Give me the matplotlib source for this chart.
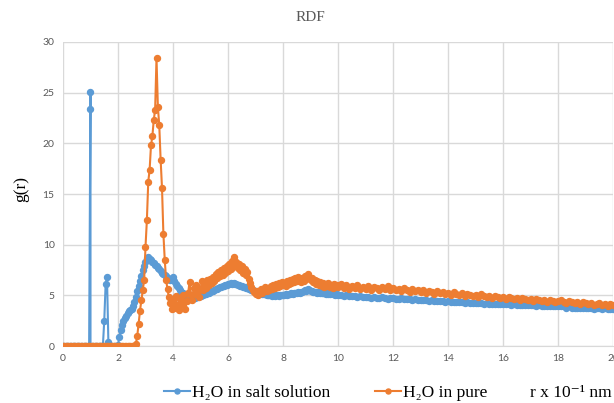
import numpy as np
import matplotlib
matplotlib.use("Agg")
import matplotlib.pyplot as plt
from matplotlib.lines import Line2D

# r grid: 0.05 steps up to 9.95, then 0.1 steps to 20
r = np.concatenate([np.round(np.arange(0, 10, 0.05), 2),
                    np.round(np.arange(10, 20.001, 0.1), 1)])
# the salt curve has two extra samples at r = 1.0 (vertical spike)
r_salt = np.insert(r, 21, [1.0, 1.0])

# H2O in salt solution
salt_a = [0] * 20 + [25.1, 23.4, 0, 0, 0, 0, 0, 0, 0, 0, 0, 0,
    2.5, 6.1, 6.8, 0.4, 0, 0, 0, 0, 0, 0,
    0.1, 0.9, 1.6, 2.1, 2.5, 2.8, 3.0, 3.3, 3.5, 3.6,
    3.7, 3.9, 4.3, 4.8, 5.4, 5.9, 6.4, 6.9, 7.5, 7.9,
    8.3, 8.7, 8.8, 8.6, 8.5, 8.3, 8.2, 8.0, 7.9, 7.7,
    7.6, 7.4, 7.2, 7.1, 7.0, 6.9, 6.7, 6.6, 6.5, 6.6,
    6.8, 6.4, 6.1, 5.9, 5.7, 5.5, 5.3, 5.2, 5.0, 4.9,
    4.8, 4.8, 4.7, 4.7, 4.6, 4.7, 4.7, 4.8, 4.8, 4.9,
    4.9, 5.0, 5.0, 5.1, 5.1, 5.2, 5.2, 5.3, 5.4, 5.4,
    5.5, 5.6, 5.6, 5.7, 5.8, 5.8, 5.9, 5.9, 6.0, 6.0,
    6.1, 6.1, 6.2, 6.1, 6.2, 6.1, 6.1, 6.0, 6.0, 5.9,
    5.9, 5.8, 5.8, 5.7, 5.7, 5.6, 5.6, 5.5, 5.5, 5.4,
    5.4, 5.3, 5.3, 5.2, 5.2, 5.1, 5.1, 5.1, 5.0, 5.0,
    5.0, 5.0, 4.9, 5.0, 4.9, 5.0, 5.0, 4.9, 5.0, 5.0,
    5.0, 5.0, 5.1, 5.0, 5.1, 5.1, 5.2, 5.1, 5.2, 5.2,
    5.2, 5.3, 5.2, 5.3, 5.3, 5.4, 5.5, 5.4, 5.6, 5.5,
    5.4, 5.4, 5.3, 5.3, 5.3, 5.2, 5.3, 5.2, 5.2, 5.2,
    5.2, 5.1, 5.2, 5.1, 5.1, 5.2, 5.1, 5.1, 5.0, 5.1]
salt_b = [5.0, 5.0, 4.9, 5.0, 4.9, 4.9, 4.9, 4.8, 4.9, 4.8,
    4.8, 4.8, 4.7, 4.8, 4.7, 4.7, 4.8, 4.7, 4.6, 4.7,
    4.7, 4.6, 4.6, 4.7, 4.6, 4.6, 4.6, 4.5, 4.6, 4.5,
    4.5, 4.5, 4.5, 4.4, 4.5, 4.4, 4.4, 4.4, 4.4, 4.3,
    4.4, 4.3, 4.3, 4.3, 4.3, 4.3, 4.2, 4.3, 4.2, 4.2,
    4.2, 4.2, 4.2, 4.1, 4.2, 4.1, 4.1, 4.1, 4.1, 4.1,
    4.1, 4.1, 4.1, 4.0, 4.1, 4.0, 4.0, 4.0, 4.0, 4.0,
    4.0, 4.0, 3.9, 4.0, 3.9, 3.9, 3.9, 3.9, 3.9, 3.9,
    3.9, 3.9, 3.9, 3.8, 3.9, 3.8, 3.8, 3.8, 3.8, 3.8,
    3.8, 3.8, 3.8, 3.7, 3.8, 3.8, 3.7, 3.8, 3.7, 3.7,
    3.7]

# H2O in pure water
pure_a = [0] * 53 + [0.2, 1.0, 2.2, 3.5, 4.5, 5.5, 6.5,
    9.8, 12.4, 16.2, 17.4, 19.8, 20.7, 22.3, 23.3, 28.4, 23.6,
    21.8, 18.4, 15.6, 11.1, 8.5, 6.5, 5.6, 4.8, 4.2, 3.7,
    4.5, 3.8, 4.9, 4.0, 3.6, 4.6, 4.1, 5.0, 4.3, 3.7,
    4.4, 5.2, 6.3, 5.0, 4.5, 5.7, 5.1, 6.0, 5.4, 4.8,
    5.6, 6.4, 5.5, 6.1, 5.7, 6.5, 6.0, 6.6, 6.2, 6.8,
    6.4, 7.1, 6.7, 7.3, 6.9, 7.5, 7.0, 7.7, 7.2, 7.9,
    7.4, 8.1, 7.6, 8.4, 8.8, 7.9, 8.3, 7.7, 8.1, 7.5,
    7.9, 7.2, 7.6, 7.0, 7.3, 6.6, 6.2, 5.8, 5.5, 5.3,
    5.1, 5.4, 5.0, 5.3, 5.6, 5.2, 5.5, 5.8, 5.4, 5.7,
    5.5, 5.9, 5.6, 6.0, 5.7, 6.1, 5.8, 6.2, 5.9, 6.3,
    6.0, 6.2, 5.9, 6.4, 6.1, 6.5, 6.2, 6.6, 6.3, 6.7,
    6.4, 6.8, 6.5, 6.3, 6.7, 6.4, 6.9, 6.6, 7.1, 6.8,
    6.5, 6.7, 6.3, 6.5, 6.1, 6.4, 6.0, 6.3, 5.9, 6.2,
    5.8, 6.1, 5.9, 6.2, 5.8, 6.0, 5.7, 6.1, 5.8, 6.0]
pure_b = [5.8, 6.1, 5.7, 6.0, 5.6, 5.9, 5.7, 6.0, 5.6, 5.8,
    5.6, 5.9, 5.5, 5.8, 5.7, 5.5, 5.8, 5.6, 5.9, 5.5,
    5.7, 5.5, 5.6, 5.4, 5.7, 5.5, 5.3, 5.6, 5.4, 5.5,
    5.3, 5.5, 5.2, 5.4, 5.3, 5.1, 5.4, 5.2, 5.3, 5.1,
    5.2, 5.0, 5.3, 5.1, 5.0, 5.2, 4.9, 5.1, 5.0, 4.9,
    5.0, 4.8, 5.1, 4.9, 4.8, 4.9, 4.7, 4.9, 4.8, 4.7,
    4.8, 4.6, 4.8, 4.7, 4.6, 4.7, 4.5, 4.7, 4.6, 4.5,
    4.6, 4.4, 4.6, 4.5, 4.4, 4.5, 4.3, 4.5, 4.4, 4.3,
    4.4, 4.5, 4.3, 4.2, 4.4, 4.3, 4.2, 4.3, 4.1, 4.3,
    4.2, 4.1, 4.2, 4.0, 4.1, 4.2, 4.0, 4.1, 3.9, 4.1,
    4.0]

salt = salt_a + salt_b
pure = pure_a + pure_b

blue = "#5B9BD5"
orange = "#ED7D31"
grid_c = "#D9D9D9"
txt_c = "#595959"
serif = ["Liberation Serif", "DejaVu Serif"]
lw, ms = 1.5, 4.3

fig = plt.figure(figsize=(6.14, 4.03), dpi=100)
ax = fig.add_axes([0.1026, 0.1414, 0.8958, 0.7544])

ax.plot(r_salt, salt, color=blue, lw=lw, marker="o", ms=ms, zorder=3)
ax.plot(r, pure, color=orange, lw=lw, marker="o", ms=ms, zorder=4)

ax.set_xlim(0, 20)
ax.set_ylim(0, 30)
ax.set_xticks(range(0, 21, 2))
ax.set_yticks(range(0, 31, 5))
ax.grid(True, color=grid_c, lw=1)
ax.set_axisbelow(True)
for s in ["top", "right", "left"]:
    ax.spines[s].set_visible(False)
ax.spines["bottom"].set_color(grid_c)
ax.tick_params(length=0, labelsize=7.5, labelcolor=txt_c, pad=6)
for lab in ax.get_xticklabels() + ax.get_yticklabels():
    lab.set_family(["Lato", "DejaVu Sans"])

fig.text(0.505, 0.957, "RDF", ha="center", va="center", fontsize=11,
         color=txt_c, family=serif)
fig.text(0.035, 0.53, "g(r)", ha="center", va="center", rotation=90,
         fontsize=12.5, family=serif)
fig.text(0.996, 0.025, "r x 10⁻¹ nm", ha="right", va="center",
         fontsize=12.5, family=serif)

handles = [Line2D([], [], color=blue, lw=lw, marker="o", ms=3.6),
           Line2D([], [], color=orange, lw=lw, marker="o", ms=3.6)]
fig.legend(handles, ["H₂O in salt solution", "H₂O in pure"], loc="center",
           bbox_to_anchor=(0.53, 0.025), ncol=2, frameon=False,
           prop={"family": serif, "size": 12.5}, handlelength=1.5,
           handletextpad=0.1, columnspacing=2.6)

fig.savefig("out.png", dpi=100)
